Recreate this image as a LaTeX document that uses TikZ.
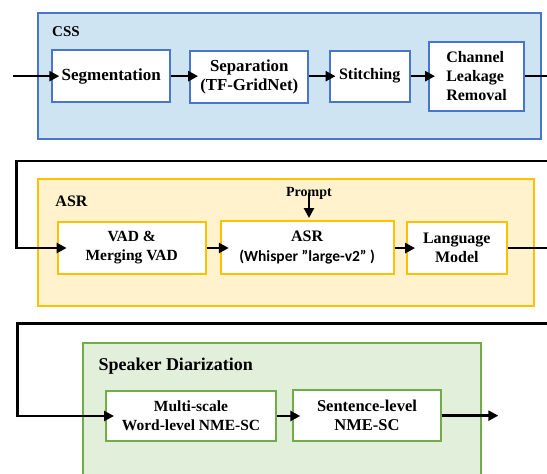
\documentclass[tikz,border=0pt]{standalone}
\usepackage{fontspec}
\setmainfont{Liberation Serif}
\newfontfamily\carlito{Carlito}
\usetikzlibrary{arrows.meta}
\definecolor{cssfill}{RGB}{207,228,243}
\definecolor{cssdraw}{RGB}{72,118,205}
\definecolor{asrfill}{RGB}{255,242,204}
\definecolor{asrdraw}{RGB}{255,192,0}
\definecolor{sdfill}{RGB}{226,239,218}
\definecolor{sddraw}{RGB}{112,173,71}
\begin{document}
\begin{tikzpicture}[x=1pt,y=-1pt,
  box/.style={draw, fill=white, line width=2pt, inner sep=0pt, align=center,
    font=\bfseries\fontsize{16}{19}\selectfont},
  group/.style={line width=2pt, inner sep=0pt},
  flow/.style={line width=2.5pt, -{Triangle[length=10pt,width=10pt]}},
  plain/.style={line width=2.5pt},
  lbl/.style={font=\bfseries\fontsize{16}{19}\selectfont, inner sep=0pt}]
\useasboundingbox (0,0) rectangle (547,474);
\fill[white] (0,0) rectangle (547,474);
\clip (0,0) rectangle (547,474);

% ---------------- CSS ----------------
\node[group, draw=cssdraw, fill=cssfill, minimum width=502.3pt, minimum height=126.6pt] (css) at (289.5,76) {};
\node[lbl, font=\bfseries\fontsize{15}{18}\selectfont] (csslbl) at (66,31.7) {CSS};
\node[box, draw=cssdraw, minimum width=117.9pt, minimum height=52.3pt, font=\bfseries\fontsize{17}{19}\selectfont] (seg) at (111.25,76.15) {Segmentation};
\node[box, draw=cssdraw, minimum width=118.3pt, minimum height=52.3pt, font=\bfseries\fontsize{16.8}{19}\selectfont] (sep) at (249.25,77.15) {Separation\\(TF-GridNet)};
\node[box, draw=cssdraw, minimum width=80.4pt, minimum height=51pt] (sti) at (369.7,76.2) {Stitching};
\node[box, draw=cssdraw, minimum width=95pt, minimum height=69pt, align=left] (cha) at (476.5,76.2) {Channel\\Leakage\\Removal};
\coordinate (in1) at (12.9,76.15);
\coordinate (out1) at (547,76.2);
\draw[flow] (in1) -- ([xshift=8pt]seg.west);
\draw[flow] (seg.east) -- ([xshift=9pt]sep.west |- seg.east);
\draw[flow] (sep.east |- sti.west) -- ([xshift=7pt]sti.west);
\draw[flow] (sti.east) -- ([xshift=7pt]cha.west);
\draw[plain] (cha.east) -- (out1);

% ---------------- ASR ----------------
\node[group, draw=asrdraw, fill=asrfill, minimum width=496.2pt, minimum height=126.5pt] (asr) at (285.6,242.25) {};
\node[lbl] (asrlbl) at (71.5,201.7) {ASR};
\node[box, draw=asrdraw, minimum width=148.2pt, minimum height=52pt, font=\bfseries\fontsize{15.5}{19}\selectfont] (vad) at (131.7,248) {VAD \&\\Merging VAD};
\node[box, draw=asrdraw, minimum width=172.7pt, minimum height=53pt] (asrin) at (307.15,247.5) {ASR\\[1pt]{\carlito\fontsize{15.5}{19}\selectfont(Whisper ”large-v2” )}};
\node[box, draw=asrdraw, minimum width=99.4pt, minimum height=52.3pt] (lm) at (456.8,248.1) {Language\\Model};
\node[lbl, font=\bfseries\fontsize{14}{16}\selectfont] (prompt) at (309,193.3) {Prompt};
\coordinate (r1a) at (547,161);
\coordinate (r1b) at (16.7,161);
\coordinate (out2) at (547,248.1);
\draw[flow] (r1a) -- (r1b) |- ([xshift=10pt]vad.west);
\draw[flow] (vad.east) -- ([xshift=9pt]asrin.west |- vad.east);
\draw[flow] (asrin.east |- lm.west) -- ([xshift=9pt]lm.west);
\draw[flow] ([yshift=7pt]prompt.south) -- ([yshift=2pt]prompt.south |- asrin.north);
\draw[plain] (lm.east) -- (out2);

% ---------------- Speaker Diarization ----------------
\node[group, draw=sddraw, fill=sdfill, minimum width=398pt, minimum height=160pt, anchor=north west] (sd) at (82,341.7) {};
\node[lbl, anchor=west, font=\bfseries\fontsize{18}{20}\selectfont] (sdlbl) at (98.3,366) {Speaker Diarization};
\node[box, draw=sddraw, minimum width=170pt, minimum height=50pt, font=\bfseries\fontsize{15.5}{19}\selectfont] (multi) at (191,416) {Multi-scale\\Word-level NME-SC};
\node[box, draw=sddraw, minimum width=147.4pt, minimum height=51.3pt, font=\bfseries\fontsize{16.5}{19}\selectfont] (sent) at (367,415.65) {Sentence-level\\NME-SC};
\coordinate (r2a) at (547,323.3);
\coordinate (r2b) at (17.4,323.3);
\coordinate (out3) at (498.3,415.65);
\draw[flow] (r2a) -- (r2b) |- ([xshift=9pt]multi.west);
\draw[flow] (multi.east) -- ([xshift=8pt]sent.west |- multi.east);
\draw[flow] (sent.east) -- (out3);
\end{tikzpicture}
\end{document}
